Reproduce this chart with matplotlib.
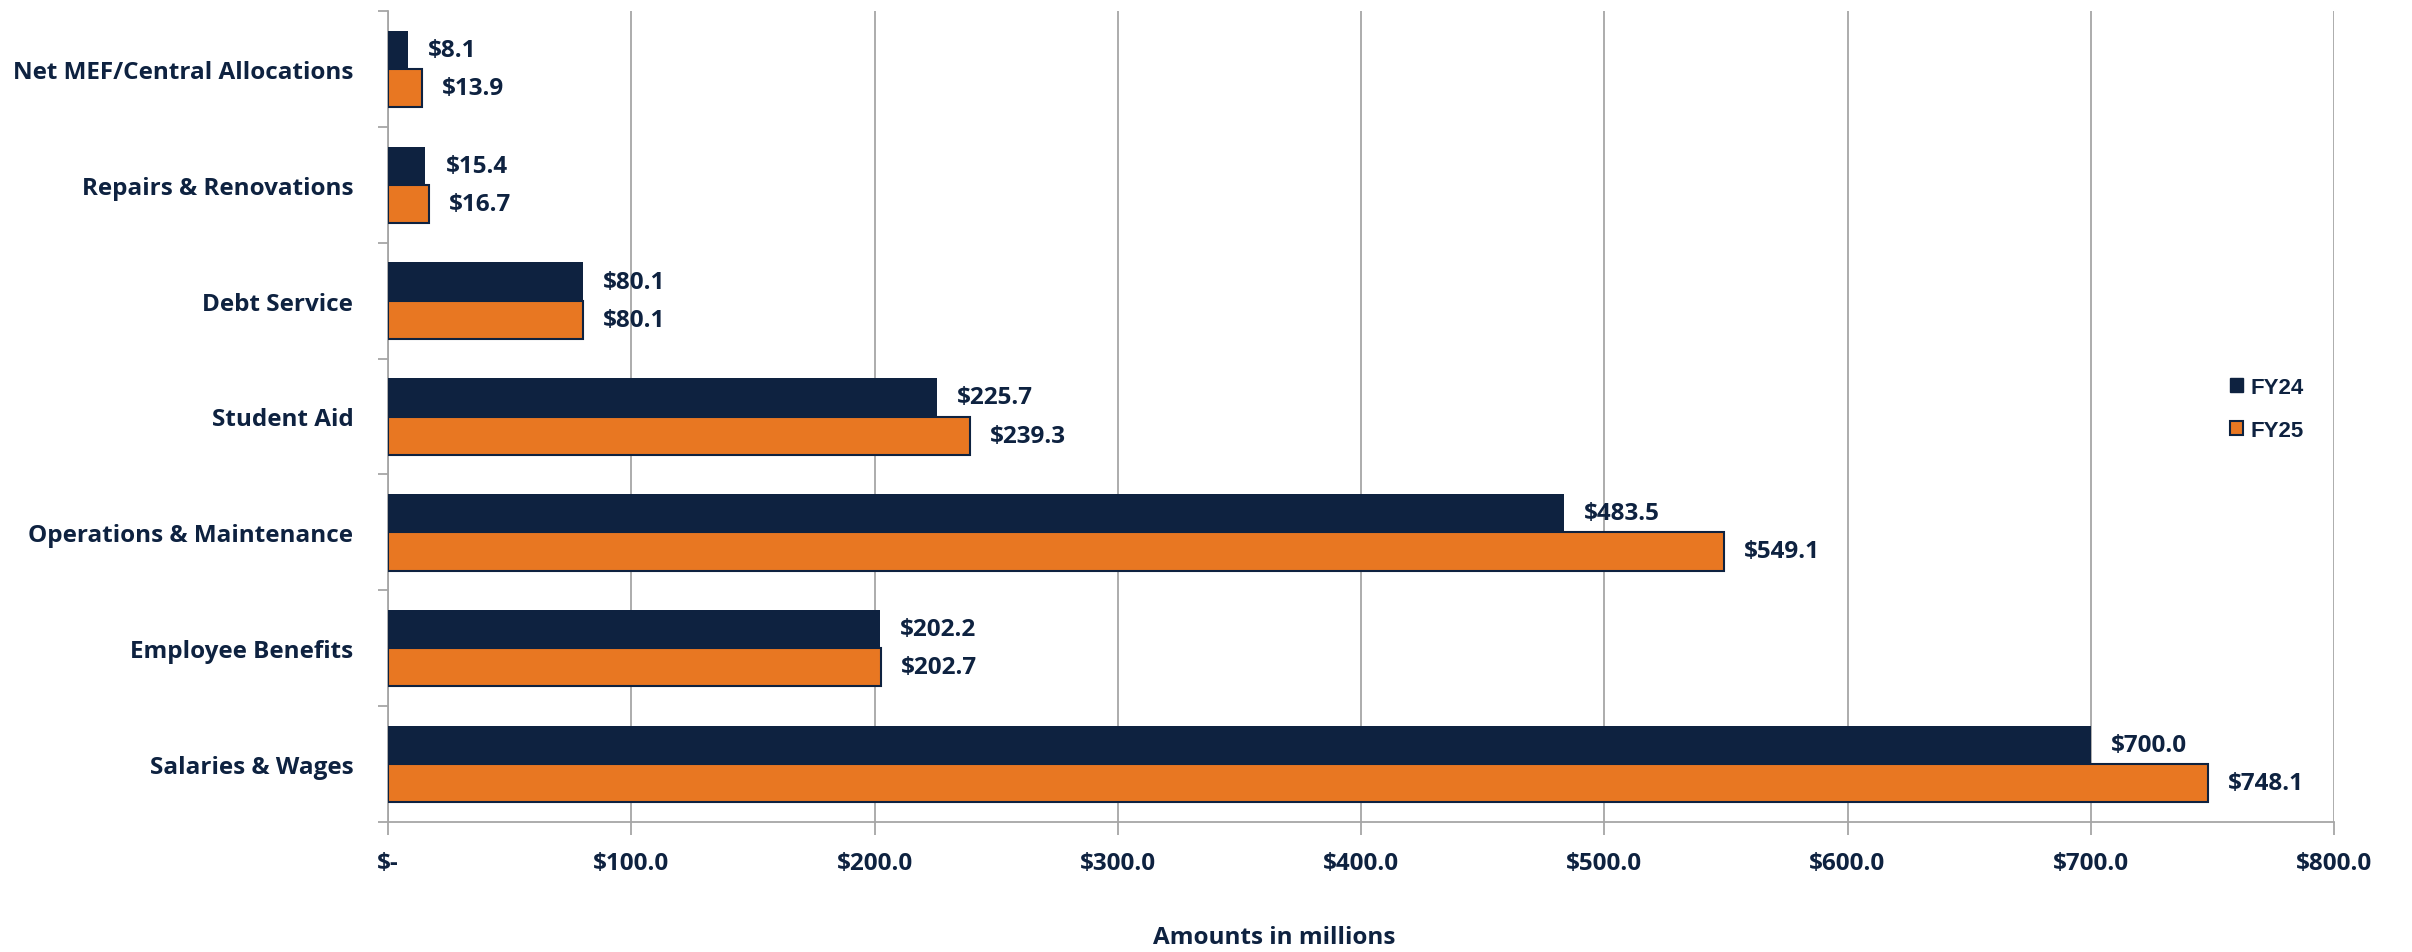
import matplotlib.pyplot as plt
from matplotlib.ticker import FuncFormatter, FixedLocator
from matplotlib.patches import Patch
import numpy as np

# данные (снизу вверх)
categories = ['Salaries & Wages', 'Employee Benefits', 'Operations & Maintenance',
              'Student Aid', 'Debt Service', 'Repairs & Renovations',
              'Net MEF/Central Allocations']
fy24 = [700.0, 202.2, 483.5, 225.7, 80.1, 15.4, 8.1]
fy25 = [748.1, 202.7, 549.1, 239.3, 80.1, 16.7, 13.9]
series_names = ['FY24', 'FY25']

navy = '#0E2240'
orange = '#E87722'
grid_col = '#A6A6A6'
font = 'Open Sans'
fs = 17.5

fig = plt.figure(figsize=(24.12, 9.53), dpi=100)
ax = fig.add_axes([388/2412, 1 - 823/953, (2334 - 388)/2412, (823 - 12)/953])

y = np.arange(len(categories))
h = 0.33
ax.barh(y + h/2, fy24, height=h, color=navy, zorder=3)
ax.barh(y - h/2, fy25, height=h, color=orange, edgecolor=navy, linewidth=1.5, zorder=3)

for i in range(len(categories)):
    ax.annotate(f'${fy24[i]:.1f}', (fy24[i], y[i] + h/2), xytext=(20, 0),
                textcoords='offset pixels', va='center', ha='left',
                fontsize=fs, fontweight='bold', color=navy, family=font)
    ax.annotate(f'${fy25[i]:.1f}', (fy25[i], y[i] - h/2), xytext=(20, 0),
                textcoords='offset pixels', va='center', ha='left',
                fontsize=fs, fontweight='bold', color=navy, family=font)

ax.set_xlim(0, 800)
ax.set_ylim(-0.5, len(categories) - 0.5)
ax.set_xticks(np.arange(0, 801, 100))
ax.xaxis.set_major_formatter(FuncFormatter(lambda v, p: '$-' if v == 0 else f'${v:.1f}'))
ax.set_yticks(y)
ax.set_yticklabels(categories)
ax.yaxis.set_minor_locator(FixedLocator(np.arange(-0.5, len(categories), 1)))
ax.tick_params(axis='y', which='major', length=0, pad=25)
ax.tick_params(axis='y', which='minor', length=7, width=1.3, color=grid_col)
ax.tick_params(axis='x', length=9, width=1.3, color=grid_col, pad=12)
for lab in ax.get_xticklabels() + ax.get_yticklabels():
    lab.set_fontsize(fs)
    lab.set_fontweight('bold')
    lab.set_color(navy)
    lab.set_family(font)

ax.grid(axis='x', color=grid_col, linewidth=1.3, zorder=0)
for s in ['top', 'right']:
    ax.spines[s].set_visible(False)
for s in ['left', 'bottom']:
    ax.spines[s].set_color(grid_col)
    ax.spines[s].set_linewidth(1.3)

fig.text(1274/2412, 1 - 938/953, 'Amounts in millions', ha='center', va='center',
         fontsize=17.5, fontweight='bold', color=navy, family=font)

handles = [Patch(facecolor=navy, edgecolor=navy), Patch(facecolor=orange, edgecolor=navy, linewidth=1.5)]
leg = ax.legend(handles, series_names, loc='center left', bbox_to_anchor=(2210/2412, 1 - 410/953),
                bbox_transform=fig.transFigure, frameon=False, handlelength=0.6, handleheight=0.6,
                handletextpad=0.3, labelspacing=1.0,
                prop={'family': 'Liberation Sans', 'weight': 'bold', 'size': 16})
for t in leg.get_texts():
    t.set_color(navy)

fig.savefig('out.png', dpi=100)
